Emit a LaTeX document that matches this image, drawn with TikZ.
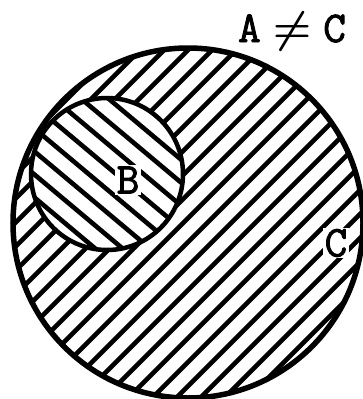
\RequirePackage{fix-cm}
\documentclass[tikz,border=0pt]{standalone}
\usepackage{amsmath}
\usepackage{fontspec}
\usepackage{tikz}
\newfontfamily\labfont{Latin Modern Mono}[FakeBold=2]

\begin{document}
\begin{tikzpicture}[x=1pt, y=-1pt, line cap=round,
   hatch/.style={line width=4.6pt},
   rim/.style={line width=5.5pt},
   lab/.style={font=\labfont\fontsize{44}{44}\selectfont, inner sep=1.5pt},
   inlab/.style={lab, fill=white}]
  \useasboundingbox (0,0) rectangle (363,399);
  \coordinate (cC) at (188,223);
  \coordinate (cB) at (107,174);
  % hatching of C
  \begin{scope}
    \clip (cC) circle[radius=175];
    \foreach \k in {-9,...,13}
      \draw[hatch] ({358+24*\k-400},400) -- ({358+24*\k},0);
  \end{scope}
  % hatching of B
  \fill[white] (cB) circle[radius=76];
  \begin{scope}
    \clip (cB) circle[radius=76];
    \foreach \k in {-8,...,3}
      \draw[hatch] (0,{145.6+23*\k}) -- (250,{145.6+23*\k+209.8});
  \end{scope}
  \draw[rim] (cC) circle[radius=175];
  \draw[line width=4.5pt] (cB) circle[radius=76];
  \node[inlab] (b) at (128,180) {B};
  \node[inlab] (c) at (336,243) {C};
  \node[lab] (eq) at (292,31) {A\hspace{12pt}{\boldmath$\neq$}\hspace{12pt}C};
\end{tikzpicture}
\end{document}
